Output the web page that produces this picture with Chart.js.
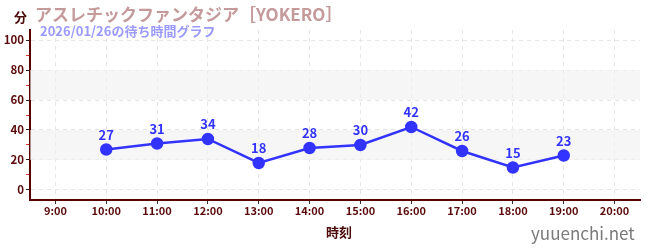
<!DOCTYPE html>
<html>
<head>
<meta charset="utf-8">
<script src="https://cdn.jsdelivr.net/npm/chart.js@4"></script>
<style>
  body { margin: 0; background: #fff; font-family: "Noto Sans CJK JP", sans-serif; }
  #wrap { position: relative; width: 650px; height: 250px; }
  .txt { position: absolute; font-weight: bold; white-space: nowrap; line-height: 1; }
</style>
</head>
<body>
<div id="wrap">
  <canvas id="waitChart" width="650" height="250"></canvas>
  <div class="txt" style="left:14px;top:10px;font-size:13px;color:#4a0a0a;">分</div>
  <div class="txt" style="left:35px;top:5px;font-size:17px;color:#c49a9a;">アスレチックファンタジア［YOKERO］</div>
  <div class="txt" style="left:40px;top:24px;font-size:13px;color:#9a9aff;">2026/01/26の待ち時間グラフ</div>
  <div class="txt" style="left:326px;top:225px;font-size:13px;color:#4a0a0a;">時刻</div>
  <div class="txt" style="left:531px;top:224px;font-size:17px;color:#7a7a7a;font-weight:normal;">yuuenchi.net</div>
</div>
<script>
// 時刻（時）と待ち時間（分）
const hours = [10, 11, 12, 13, 14, 15, 16, 17, 18, 19];
const waits = [27, 31, 34, 18, 28, 30, 42, 26, 15, 23];
const hourTicks = [9, 10, 11, 12, 13, 14, 15, 16, 17, 18, 19, 20];
const waitTicks = [0, 10, 20, 30, 40, 50, 60, 70, 80, 90, 100];
const bands = [[20, 40], [60, 80]];

const lineColor = '#3333ff';
const axisColor = '#5a0a0a';

// 背景の帯
const bandPlugin = {
  id: 'bands',
  beforeDatasetsDraw(chart) {
    const { ctx, chartArea, scales } = chart;
    ctx.save();
    ctx.fillStyle = 'rgba(240,240,240,0.6)';
    bands.forEach(([a, b]) => {
      const y1 = scales.y.getPixelForValue(b);
      const y2 = scales.y.getPixelForValue(a);
      ctx.fillRect(chartArea.left, y1, chartArea.right - chartArea.left, y2 - y1);
    });
    ctx.restore();
  },
};

// 値ラベル
const labelPlugin = {
  id: 'valueLabels',
  afterDatasetsDraw(chart) {
    const { ctx } = chart;
    const meta = chart.getDatasetMeta(0);
    ctx.save();
    ctx.fillStyle = lineColor;
    ctx.font = 'bold 13px "Noto Sans CJK JP"';
    ctx.textAlign = 'center';
    ctx.textBaseline = 'bottom';
    meta.data.forEach((pt, i) => {
      ctx.fillText(waits[i], pt.x, pt.y - 8);
    });
    ctx.restore();
  },
};

new Chart(document.getElementById('waitChart'), {
  type: 'line',
  data: {
    datasets: [
      {
        data: hours.map((h, i) => ({ x: h, y: waits[i] })),
        borderColor: lineColor,
        backgroundColor: lineColor,
        borderWidth: 2.5,
        pointRadius: 5,
        pointHoverRadius: 5,
        tension: 0,
      },
    ],
  },
  options: {
    responsive: false,
    animation: false,
    events: [],
    layout: { padding: { top: 30, right: 10, left: 0, bottom: 0 } },
    plugins: { legend: { display: false }, tooltip: { enabled: false } },
    scales: {
      x: {
        type: 'linear',
        min: 8.5,
        max: 20.5,
        afterBuildTicks(scale) {
          scale.ticks = hourTicks.map((v) => ({ value: v }));
        },
        afterFit(scale) {
          scale.height = 50;
        },
        ticks: {
          callback: (v) => v + ':00',
          color: axisColor,
          font: { family: 'Noto Sans CJK JP', size: 11, weight: 'bold' },
          maxRotation: 0,
          padding: 0,
        },
        grid: {
          color: '#e6e6e6',
          tickBorderDash: [],
          tickColor: '#333',
          tickLength: 4,
        },
        border: { color: '#5a0000', width: 2, dash: [4, 4] },
      },
      y: {
        min: -6.7,
        max: 106.7,
        afterBuildTicks(scale) {
          scale.ticks = waitTicks.map((v) => ({ value: v }));
        },
        afterFit(scale) {
          scale.width = 30;
        },
        ticks: {
          callback: (v) => (v % 20 === 0 ? v : ''),
          color: axisColor,
          font: { family: 'Noto Sans CJK JP', size: 11.5, weight: 'bold' },
          padding: 2,
        },
        grid: {
          color: (c) => (c.tick && c.tick.value % 20 === 0 ? '#e6e6e6' : 'rgba(0,0,0,0)'),
          tickBorderDash: [],
          tickColor: (c) => (c.tick && c.tick.value % 20 === 0 ? '#222' : '#e03030'),
          tickLength: 4,
        },
        border: { color: '#5a0000', width: 2, dash: [4, 4] },
      },
    },
  },
  plugins: [bandPlugin, labelPlugin],
});
</script>
</body>
</html>
